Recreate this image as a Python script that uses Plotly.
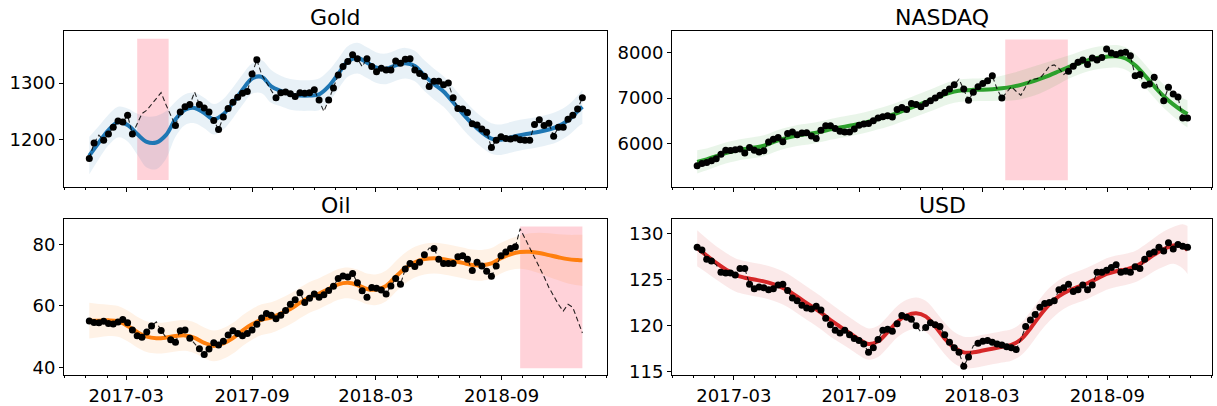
import pandas as pd
import plotly.graph_objects as go

# ---------------- data ----------------
week_dates = pd.date_range("2017-01-06", periods=104, freq="7D")
knot_weeks = list(range(0, 104, 2)) + [103]

gold_true = [1167, 1194, 1208, 1199, 1210, 1222, 1233, 1231, 1243, 1210,
             1228, 1246, 1252, 1262, 1272, 1283, 1262, 1243, 1225, 1249,
             1258, 1262, 1284, 1262, 1256, 1249, 1234, 1218, 1240, 1255,
             1266, 1275, 1282, 1285, 1316, 1341, 1315, 1300, 1287, 1274,
             1283, 1284, 1281, 1276, 1283, 1282, 1283, 1288, 1270, 1250,
             1270, 1291, 1314, 1329, 1338, 1350, 1343, 1329, 1343, 1329,
             1320, 1326, 1323, 1323, 1339, 1335, 1342, 1343, 1323, 1317,
             1312, 1294, 1303, 1303, 1297, 1300, 1274, 1255, 1254, 1248,
             1228, 1226, 1219, 1213, 1186, 1199, 1205, 1202, 1201, 1203,
             1200, 1199, 1199, 1227, 1235, 1225, 1229, 1206, 1222, 1222,
             1236, 1243, 1254, 1274]
gold_mean = [1172, 1195, 1217, 1231, 1226, 1210, 1196, 1195, 1208, 1236,
             1253, 1256, 1247, 1236, 1245, 1265, 1288, 1308, 1311, 1294,
             1286, 1280, 1278, 1278, 1280, 1294, 1316, 1338, 1344, 1336,
             1327, 1325, 1331, 1335, 1330, 1313, 1298, 1285, 1266, 1246,
             1228, 1213, 1202, 1200, 1204, 1208, 1211, 1214, 1218, 1224,
             1234, 1250, 1258]
gold_band = [33, 29, 27, 27, 29, 36, 45, 47, 42, 31,
             27, 27, 27, 27, 27, 27, 27, 27, 29, 29,
             27, 27, 27, 27, 28, 28, 27, 27, 27, 27,
             27, 27, 27, 27, 27, 27, 27, 27, 27, 27,
             27, 27, 27, 27, 27, 27, 27, 27, 27, 27,
             27, 28, 30]
gold_missing = [2, 10, 11, 12, 13, 14, 15, 16, 17, 22, 36, 37, 38, 49, 57]
gold_heldout_x = ["2017-03-17", "2017-05-02"]
gold_heldout_y = [1129, 1378]
gold_yrange = [1117, 1391]

nasdaq_true = [5510, 5560, 5580, 5620, 5665, 5760, 5850, 5845, 5860, 5880,
               5790, 5910, 5850, 5810, 5840, 6030, 6090, 6130, 6040, 6220,
               6250, 6190, 6230, 6235, 6165, 6110, 6290, 6390, 6390, 6330,
               6270, 6250, 6250, 6320, 6400, 6430, 6440, 6500, 6560, 6590,
               6610, 6580, 6750, 6790, 6750, 6880, 6860, 6810, 6880, 6940,
               7000, 7060, 7120, 7200, 7290, 7414, 7200, 6950, 7130, 7250,
               7320, 7380, 7490, 7200, 7000, 7120, 7250, 7150, 7060, 7250,
               7400, 7420, 7440, 7560, 7700, 7730, 7650, 7520, 7590, 7700,
               7790, 7840, 7740, 7880, 7840, 7890, 8080, 7990, 7960, 7990,
               8010, 7930, 7490, 7520, 7280, 7310, 7460, 7150, 6940, 7240,
               7090, 7020, 6560, 6560]
nasdaq_mean = [5595, 5650, 5720, 5790, 5840, 5880, 5910, 5950, 6030, 6100,
               6150, 6190, 6220, 6260, 6310, 6350, 6390, 6430, 6480, 6540,
               6600, 6670, 6750, 6830, 6910, 6990, 7080, 7140, 7170, 7180,
               7185, 7195, 7215, 7245, 7290, 7350, 7420, 7500, 7590, 7680,
               7760, 7830, 7880, 7910, 7920, 7870, 7720, 7500, 7260, 7040,
               6860, 6710, 6650]
nasdaq_band = [255, 240, 232, 230, 230, 230, 230, 230, 230, 230,
               230, 230, 230, 230, 230, 230, 230, 230, 230, 230,
               230, 230, 232, 235, 238, 240, 242, 245, 248, 250,
               252, 258, 275, 298, 315, 322, 318, 302, 280, 258,
               250, 248, 248, 248, 248, 248, 250, 252, 255, 258,
               265, 285, 300]
nasdaq_missing = [55, 63, 65, 66, 67, 68, 69, 70, 71, 72, 73, 74, 75, 76, 77, 97]
nasdaq_heldout_x = ["2018-04-04", "2018-07-05"]
nasdaq_heldout_y = [5190, 8290]
nasdaq_yrange = [5047, 8466]

oil_true = [55.1, 54.6, 54.5, 55.0, 54.3, 54.1, 54.8, 55.6, 54.5, 52.2,
            50.3, 49.8, 51.5, 53.5, 54.8, 52.0, 49.8, 49.0, 48.2, 51.9,
            52.2, 49.5, 47.8, 46.1, 44.2, 46.0, 48.0, 47.3, 48.5, 50.5,
            51.9, 51.0, 50.3, 51.0, 52.2, 54.0, 56.1, 57.5, 57.0, 55.8,
            57.0, 58.5, 60.5, 62.0, 64.3, 61.1, 62.5, 63.9, 62.8, 63.6,
            65.0, 66.4, 68.9, 69.7, 69.4, 70.5, 67.5, 64.9, 62.8, 66.0,
            65.7, 65.2, 63.9, 66.5, 68.9, 67.0, 72.0, 73.8, 72.8, 74.2,
            76.6, 78.8, 78.7, 75.2, 73.8, 73.8, 73.8, 76.0, 76.3, 75.2,
            71.5, 74.2, 73.0, 71.3, 69.6, 73.0, 76.3, 77.5, 78.7, 79.2,
            85.1, 82.0, 79.0, 75.5, 72.5, 69.5, 66.0, 63.0, 60.5, 58.3,
            60.5, 59.5, 55.0, 51.2]
oil_mean = [55.2, 55.2, 55.3, 55.0, 53.5, 51.5, 50.0, 49.5, 49.7, 50.2,
            50.4, 49.6, 48.0, 47.0, 47.8, 49.5, 52.0, 54.0, 55.5, 56.2,
            57.5, 59.0, 61.0, 62.8, 64.0, 65.5, 67.0, 67.5, 66.8, 65.5,
            65.3, 66.5, 69.5, 72.3, 74.2, 75.2, 75.5, 75.2, 74.6, 74.0,
            73.3, 73.2, 73.8, 75.5, 76.8, 77.5, 77.6, 77.2, 76.5, 75.8,
            75.2, 74.9, 74.8]
oil_band = [5.8, 5.4, 5.1, 5.0, 5.0, 5.0, 5.0, 5.0, 5.0, 5.0,
            5.0, 5.0, 5.0, 5.0, 5.0, 5.0, 5.0, 5.0, 5.0, 5.0,
            5.0, 5.0, 5.0, 5.0, 5.0, 5.0, 5.0, 5.0, 5.0, 5.0,
            5.0, 5.0, 5.0, 5.0, 5.0, 5.0, 5.0, 5.0, 5.0, 5.0,
            5.0, 5.0, 5.0, 5.0, 5.1, 5.4, 6.0, 6.6, 7.1, 7.5,
            7.9, 8.2, 8.3]
oil_missing = [14, 16, 22, 71, 90, 91, 92, 93, 94, 95, 96, 97, 98, 99, 100, 101, 102, 103]
oil_heldout_x = ["2018-09-28", "2018-12-28"]
oil_heldout_y = [39.7, 85.8]
oil_yrange = [37.4, 88.2]

usd_true = [128.5, 128.2, 127.2, 127.0, 126.6, 125.8, 125.7, 125.7, 125.5, 126.2,
            126.2, 124.5, 124.0, 124.2, 124.1, 123.9, 124.0, 124.4, 124.5, 123.8,
            123.0, 122.7, 122.2, 121.9, 121.8, 122.1, 121.7, 120.8, 120.1, 119.5,
            119.2, 119.5, 119.0, 118.6, 118.4, 118.0, 117.1, 117.6, 118.5, 119.5,
            119.6, 119.4, 120.2, 121.1, 120.9, 120.7, 120.0, 119.3, 119.8, 120.3,
            120.1, 119.9, 119.0, 118.2, 117.6, 117.1, 115.6, 116.6, 117.8, 118.1,
            118.3, 118.4, 118.2, 118.0, 117.9, 117.7, 117.6, 117.4, 118.5, 119.9,
            120.6, 121.2, 122.0, 122.4, 122.5, 122.7, 123.9, 124.1, 124.5, 123.7,
            123.9, 124.4, 123.9, 124.4, 125.8, 125.8, 126.0, 126.3, 126.6, 125.8,
            125.9, 125.8, 126.4, 126.2, 127.2, 127.8, 128.0, 128.5, 128.1, 129.0,
            128.3, 128.8, 128.6, 128.5]
usd_mean = [128.4, 127.6, 126.8, 126.1, 125.5, 125.2, 125.0, 124.8, 124.5, 124.1,
            123.5, 122.8, 122.1, 121.4, 120.6, 119.9, 119.2, 118.5, 118.0, 118.3,
            119.3, 120.4, 121.1, 121.35, 121.0, 119.9, 118.6, 117.6, 117.1, 117.1,
            117.3, 117.5, 117.7, 117.9, 118.5, 119.7, 121.1, 122.3, 123.2, 123.8,
            124.2, 124.6, 125.1, 125.6, 125.9, 126.1, 126.4, 127.0, 127.7, 128.3,
            128.7, 128.6, 128.2]
usd_band = [1.95, 1.85, 1.8, 1.8, 1.8, 1.8, 1.8, 1.8, 1.8, 1.8,
            1.8, 1.8, 1.8, 1.8, 1.8, 1.75, 1.7, 1.7, 1.7, 1.7,
            1.7, 1.7, 1.7, 1.7, 1.7, 1.7, 1.7, 1.7, 1.7, 1.7,
            1.7, 1.7, 1.7, 1.7, 1.75, 1.8, 1.8, 1.8, 1.75, 1.7,
            1.7, 1.7, 1.7, 1.7, 1.7, 1.7, 1.7, 1.75, 1.8, 1.9,
            2.0, 2.4, 2.6]
usd_missing = [4, 47, 58, 68]
usd_yrange = [114.6, 131.55]

x_range = ["2016-11-30", "2019-02-02"]

# ---------------- figure ----------------
FONT = "DejaVu Sans"
left_dom, right_dom = [64 / 1217, 607 / 1217], [672 / 1217, 1212 / 1217]
top_dom, bot_dom = [1 - 190 / 406, 1 - 32 / 406], [1 - 382 / 406, 1 - 223 / 406]

panels = [
    dict(title="Gold", true=gold_true, mean=gold_mean, band=gold_band, missing=gold_missing,
         color="#1f77b4", fill="rgba(31,119,180,0.1)", held_x=gold_heldout_x, held_y=gold_heldout_y,
         yrange=gold_yrange, dtick=100, n=1, xd=left_dom, yd=top_dom, labels=False),
    dict(title="NASDAQ", true=nasdaq_true, mean=nasdaq_mean, band=nasdaq_band, missing=nasdaq_missing,
         color="#2ca02c", fill="rgba(44,160,44,0.1)", held_x=nasdaq_heldout_x, held_y=nasdaq_heldout_y,
         yrange=nasdaq_yrange, dtick=1000, n=2, xd=right_dom, yd=top_dom, labels=False),
    dict(title="Oil", true=oil_true, mean=oil_mean, band=oil_band, missing=oil_missing,
         color="#ff7f0e", fill="rgba(255,127,14,0.1)", held_x=oil_heldout_x, held_y=oil_heldout_y,
         yrange=oil_yrange, dtick=20, n=3, xd=left_dom, yd=bot_dom, labels=True),
    dict(title="USD", true=usd_true, mean=usd_mean, band=usd_band, missing=usd_missing,
         color="#d62728", fill="rgba(214,39,40,0.1)", held_x=None, held_y=None,
         yrange=usd_yrange, dtick=5, n=4, xd=right_dom, yd=bot_dom, labels=True),
]

fig = go.Figure()
shapes, annotations = [], []
knot_dates = week_dates[knot_weeks]

for p in panels:
    sfx = "" if p["n"] == 1 else str(p["n"])
    xa, ya = "x" + sfx, "y" + sfx
    upper = [m + b for m, b in zip(p["mean"], p["band"])]
    lower = [m - b for m, b in zip(p["mean"], p["band"])]
    fig.add_trace(go.Scatter(x=knot_dates, y=lower, mode="lines", line=dict(width=0, shape="spline"),
                             hoverinfo="skip", showlegend=False, xaxis=xa, yaxis=ya))
    fig.add_trace(go.Scatter(x=knot_dates, y=upper, mode="lines", line=dict(width=0, shape="spline"),
                             fill="tonexty", fillcolor=p["fill"], hoverinfo="skip", showlegend=False,
                             xaxis=xa, yaxis=ya))
    fig.add_trace(go.Scatter(x=knot_dates, y=p["mean"], mode="lines",
                             line=dict(color=p["color"], width=4, shape="spline"),
                             showlegend=False, xaxis=xa, yaxis=ya))
    fig.add_trace(go.Scatter(x=week_dates, y=p["true"], mode="lines",
                             line=dict(color="rgba(0,0,0,0.85)", width=1.1, dash="5px,3px"),
                             showlegend=False, xaxis=xa, yaxis=ya))
    obs = [i for i in range(len(p["true"])) if i not in p["missing"]]
    fig.add_trace(go.Scatter(x=week_dates[obs], y=[p["true"][i] for i in obs], mode="markers",
                             marker=dict(color="black", size=7, line=dict(width=0)),
                             showlegend=False, xaxis=xa, yaxis=ya))
    if p["held_x"] is not None:
        shapes.append(dict(type="rect", xref=xa, yref=ya, x0=p["held_x"][0], x1=p["held_x"][1],
                           y0=p["held_y"][0], y1=p["held_y"][1], fillcolor="rgba(255,192,203,0.72)",
                           line=dict(width=0), layer="below"))
    annotations.append(dict(text=p["title"], xref="paper", yref="paper",
                            x=(p["xd"][0] + p["xd"][1]) / 2, y=p["yd"][1], xanchor="center",
                            yanchor="bottom", showarrow=False, yshift=-1,
                            font=dict(family=FONT, size=22, color="black")))
    axis_common = dict(showline=True, mirror=True, linecolor="black", linewidth=1, showgrid=False,
                       zeroline=False, ticks="outside", ticklen=4, tickwidth=1, tickcolor="black",
                       tickfont=dict(family=FONT, size=18, color="black"))
    fig.layout["xaxis" + sfx] = dict(axis_common, type="date", domain=p["xd"], range=x_range,
                                     anchor=ya, dtick="M6", tick0="2017-03-01", tickformat="%Y-%m",
                                     showticklabels=p["labels"],
                                     minor=dict(ticks="outside", ticklen=2, dtick="M1",
                                                tick0="2017-01-01", tickcolor="black", showgrid=False))
    fig.layout["yaxis" + sfx] = dict(axis_common, domain=p["yd"], range=p["yrange"], anchor=xa,
                                     dtick=p["dtick"])

fig.update_layout(width=1217, height=406, autosize=False, margin=dict(l=0, r=0, t=0, b=0),
                  paper_bgcolor="white", plot_bgcolor="white", shapes=shapes,
                  annotations=annotations, font=dict(family=FONT), showlegend=False)
fig.write_html("out.html")
